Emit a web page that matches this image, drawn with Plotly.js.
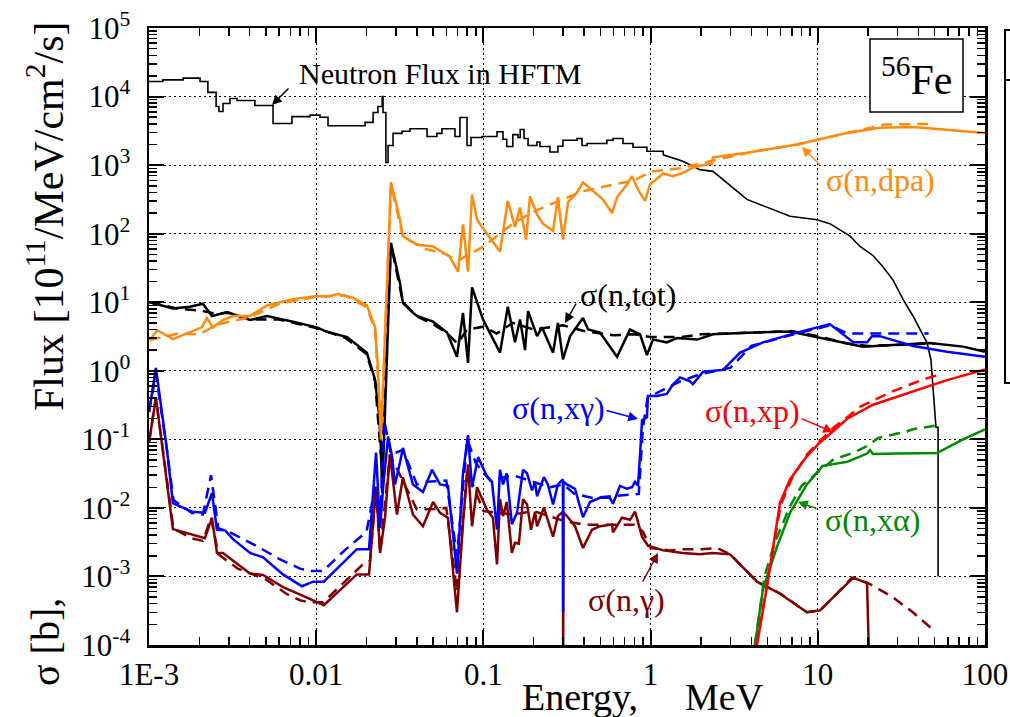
<!DOCTYPE html>
<html><head><meta charset="utf-8">
<script src="https://cdn.plot.ly/plotly-3.0.1.min.js"></script>
<style>html,body{margin:0;padding:0;background:#fff}</style>
</head><body><div id="chart" style="width:1010px;height:717px"></div>
<script>
// ---------- tick labels ----------
const xTickVals = [0.001, 0.01, 0.1, 1, 10, 100];
const xTickText = ["1E-3", "0.01", "0.1", "1", "10", "100"];
const yTickVals = [1e-4, 1e-3, 1e-2, 1e-1, 1, 10, 100, 1e3, 1e4, 1e5];
const yTickText = ["10<sup>-4</sup>","10<sup>-3</sup>","10<sup>-2</sup>","10<sup>-1</sup>","10<sup>0</sup>","10<sup>1</sup>","10<sup>2</sup>","10<sup>3</sup>","10<sup>4</sup>","10<sup>5</sup>"];

// ---------- neutron flux in HFTM (10^11 /MeV/cm2/s) ----------
const fluxE1 = [0.001,0.00121,0.0016,0.00202,0.00225,0.00252,0.00262,0.00277,0.00305,0.00336,0.0043,0.00552,0.00716,0.00918,0.01054,0.01177,0.0196,0.0219,0.0234,0.0248,0.0251,0.0261,0.0269,0.0288,0.0326,0.0364,0.046,0.0527,0.0565,0.0676,0.0724,0.0798,0.0843,0.0982,0.1206,0.131,0.138,0.150,0.161,0.166,0.175,0.185,0.209,0.218,0.250,0.279,0.299,0.363,0.389,0.417,0.548,0.596,0.684,0.785,0.951,1.19];
const fluxV1 = [16600,17500,18600,16600,11500,7160,6040,7900,9370,8750,7400,4050,5100,5360,5000,3760,4200,5840,7160,10000,5840,1090,1930,2900,3120,3400,2620,2900,3400,2620,4950,1930,2530,2620,3070,2380,1870,2780,2530,3300,2450,1930,2170,1870,1550,1880,2300,2450,1930,2070,2300,2450,2070,1820,1590,1410];
const fluxE2 = [1.19,1.56,1.97,2.36,3.77,6.82,9.89,11.8,15.6,17.9,21.4,24.5,28.2,32.4,37.1,40.8,45.0,47.5,48.9,50.9,52.4,52.4];
const fluxV2 = [1410,1140,860,810,316,180,160,140,92,65,48,33,21,10.9,6.3,4.0,2.56,1.45,0.6,0.15,0.15,0.001];

// ---------- sigma(n,tot) [b] ----------
const totE = [0.00101,0.00139,0.00176,0.0021,0.00238,0.00293,0.00402,0.00508,0.00727,0.0101,0.0116,0.0153,0.0201,0.0225,0.0238,0.0244,0.0248,0.028,0.0317,0.033,0.0379,0.0401,0.05,0.0606,0.0695,0.0755,0.0809,0.0855,0.0995,0.1257,0.140,0.1545,0.1656,0.1774,0.185,0.2094,0.224,0.261,0.279,0.299,0.330,0.394,0.423,0.498,0.63,0.753,0.865,0.951,1.033,1.25,1.44,1.72,1.90,2.36,3.77,6.82,9.36,15.0,18.6,29.8,46.9,73.9,100];
const totS = [10.0,8.1,8.6,9.5,6.3,7.2,5.5,6.3,5.2,4.3,3.7,3.1,1.83,0.74,0.22,0.071,0.0168,73.5,19,9.8,7.0,6.3,5.2,3.6,1.6,7.0,1.3,16.5,5.6,1.84,8.6,2.6,5.6,2.0,7.4,3.2,4.3,1.83,5.0,1.47,3.2,5.9,4.0,3.6,1.6,4.0,3.4,1.7,2.85,2.6,3.0,2.95,2.85,3.4,3.6,3.75,3.2,2.5,2.25,2.4,2.55,2.25,1.9];
const totDE = [0.00101,0.0015,0.002,0.0025,0.003,0.004,0.006,0.01,0.015,0.02,0.0225,0.0245,0.028,0.033,0.04,0.05,0.06,0.07,0.08,0.1,0.12,0.15,0.2,0.3,0.4,0.6,0.8,1.0,1.5,2,4,7,10,15,20,30,50];
const totDS = [10.0,8.0,7.6,6.8,7.0,5.6,5.6,4.2,3.0,1.75,0.7,0.05,70,10,6.2,4.8,3.6,2.5,4.0,4.4,3.5,5.0,4.0,4.6,3.8,3.3,3.4,3.1,3.1,3.4,3.6,3.8,3.2,2.5,2.3,2.4,2.5];

// ---------- sigma(n,dpa) ----------
const dpaE = [0.00101,0.00112,0.00139,0.00176,0.00207,0.00222,0.00241,0.00277,0.00318,0.00402,0.00508,0.00727,0.0101,0.0116,0.0135,0.0166,0.0201,0.0225,0.0234,0.0244,0.028,0.0317,0.033,0.0401,0.05,0.0631,0.0705,0.0755,0.0809,0.0855,0.0916,0.105,0.1257,0.140,0.1545,0.1656,0.18,0.190,0.2094,0.227,0.261,0.279,0.299,0.321,0.363,0.394,0.452,0.519,0.588,0.63,0.722,0.774,0.841,0.926,0.991,1.19,1.36,1.56,1.79,1.97,2.33,2.36,3.77,7.52,15.0,23.5,37.1,100];
const dpaS = [2.8,3.9,2.9,3.7,4.3,5.9,4.3,5.5,6.3,6.3,9.0,11.1,12.3,12.0,13.2,11.6,9.0,4.3,1.1,0.1,563,160,92,69,65,46,28,137,28,373,160,100,55,300,125,240,82,350,190,140,110,340,82,290,400,560,420,315,200,340,520,690,440,300,520,755,690,770,920,980,1050,1300,1520,2000,2950,3500,3600,2950];
const dpaDE = [0.00101,0.0015,0.002,0.0025,0.003,0.004,0.006,0.01,0.015,0.02,0.0225,0.0245,0.028,0.033,0.045,0.06,0.07,0.1,0.15,0.2,0.3,0.4,0.6,0.8,1.0,1.5,2.3,4,7.5,15,25,50];
const dpaDS = [2.8,3.5,3.4,4.6,5.2,6.0,9.5,12,12.5,8.5,4,0.12,520,90,60,50,40,65,140,210,320,420,520,600,800,900,1150,1550,2000,2950,3900,4000];

// ---------- sigma(n,x gamma) ----------
const xgE = [0.001,0.0011,0.00128,0.00139,0.00181,0.00216,0.00238,0.00255,0.00285,0.00318,0.00402,0.00481,0.00633,0.00822,0.00957,0.0111,0.0175,0.0207,0.0228,0.0241,0.0251,0.0269,0.0284,0.0296,0.0317,0.033,0.0379,0.0435,0.0493,0.055,0.0614,0.0695,0.0755,0.0809,0.0855,0.0929,0.105,0.1125,0.1206,0.1257,0.131,0.138,0.148,0.159,0.1726,0.1824,0.1953,0.2036,0.2094,0.230,0.243,0.261,0.279,0.299,0.3,0.301,0.316,0.353,0.394,0.434,0.498,0.571,0.596,0.656,0.722,0.774,0.807,0.841,0.865,0.889,0.951,0.964,1.09,1.25,1.36,1.50,1.72,1.79,2.06,2.71,3.43,4.70,7.52,11.8,16.3,19.7,21.1,23.5,37.1,59.3,100];
const xgS = [0.25,1.1,0.071,0.0117,0.0088,0.0085,0.0164,0.0048,0.0047,0.0035,0.0022,0.0019,0.00107,0.00072,0.00084,0.00084,0.0025,0.0025,0.064,0.0051,0.019,0.11,0.057,0.022,0.046,0.075,0.022,0.017,0.036,0.022,0.021,0.0011,0.032,0.115,0.020,0.055,0.029,0.024,0.0048,0.036,0.022,0.032,0.0058,0.0085,0.036,0.032,0.018,0.024,0.0148,0.028,0.022,0.0112,0.022,0.026,0.0003,0.024,0.022,0.019,0.0073,0.0122,0.014,0.014,0.0115,0.021,0.019,0.020,0.024,0.021,0.06,0.19,0.21,0.43,0.43,0.46,0.63,0.8,0.7,0.64,0.97,1.03,1.84,2.6,3.6,4.8,2.6,2.6,3.2,3.2,2.3,1.9,1.6];
const xgDE = [0.001,0.0011,0.00128,0.0014,0.0018,0.0021,0.00235,0.0026,0.003,0.0035,0.0045,0.006,0.008,0.0095,0.011,0.0145,0.02,0.0225,0.0241,0.0255,0.028,0.033,0.04,0.045,0.06,0.0695,0.08,0.09,0.11,0.15,0.2,0.25,0.3,0.35,0.45,0.6,0.85,0.9,0.96,1.1,1.5,2,3,4,7.5,11.8,15,25,46];
const xgDS = [0.25,0.9,0.07,0.013,0.0085,0.008,0.03,0.005,0.0045,0.0037,0.0027,0.0018,0.0013,0.0012,0.0012,0.0023,0.0045,0.02,0.005,0.19,0.06,0.07,0.022,0.024,0.025,0.002,0.1,0.045,0.025,0.03,0.024,0.02,0.022,0.016,0.014,0.015,0.016,0.15,0.4,0.48,0.7,0.9,1.1,2.3,3.5,4.6,3.5,3.5,3.5];

// ---------- sigma(n,gamma) ----------
const ngE = [0.001,0.0011,0.00139,0.00216,0.00238,0.00255,0.00277,0.00318,0.00402,0.00481,0.00633,0.00822,0.0111,0.0175,0.0207,0.0228,0.0241,0.0258,0.0276,0.0304,0.033,0.0379,0.0435,0.05,0.055,0.0614,0.0695,0.0755,0.0809,0.0855,0.0916,0.105,0.114,0.1206,0.1257,0.131,0.138,0.148,0.1545,0.163,0.1726,0.1824,0.1926,0.2036,0.2094,0.230,0.243,0.261,0.279,0.299,0.3,0.301,0.316,0.353,0.394,0.446,0.498,0.588,0.596,0.674,0.753,0.807,0.889,0.964,1.19,1.56,1.97,2.36,2.99,4.33,5.94,8.61,10.3,13.0,16.3,19.7,20.2];
const ngS = [0.09,0.41,0.0049,0.0036,0.0072,0.0022,0.0022,0.0017,0.0011,0.00105,0.00070,0.00053,0.00038,0.00107,0.00107,0.0204,0.0022,0.0072,0.061,0.008,0.028,0.008,0.0054,0.0122,0.0085,0.0072,0.00030,0.0060,0.043,0.0054,0.020,0.0094,0.0072,0.0015,0.0134,0.0076,0.0122,0.0022,0.0031,0.0030,0.0134,0.0113,0.0048,0.0088,0.0054,0.0101,0.0067,0.0038,0.0076,0.0088,0.00008,0.0085,0.0076,0.0054,0.0026,0.0048,0.0054,0.0057,0.0044,0.0072,0.0067,0.0088,0.0038,0.0028,0.0024,0.0022,0.0021,0.0022,0.0021,0.00084,0.00056,0.00030,0.00032,0.00056,0.00096,0.00080,0.00008];
const ngDE = [0.001,0.0011,0.0014,0.0018,0.0021,0.00235,0.0026,0.003,0.0034,0.005,0.0058,0.0067,0.008,0.009,0.011,0.014,0.016,0.019,0.021,0.0228,0.0241,0.0276,0.033,0.04,0.05,0.06,0.0695,0.08,0.1,0.15,0.2,0.3,0.4,0.6,0.8,0.9,1.0,1.3,1.6,2,2.5,3,4.33,6,8.6,10.3,13,16,20,28,37,50];
const ngDS = [0.09,0.4,0.005,0.0036,0.0033,0.0072,0.0021,0.0016,0.0013,0.0009,0.0007,0.00055,0.00045,0.00042,0.00042,0.00075,0.001,0.0015,0.0017,0.02,0.0023,0.06,0.025,0.0095,0.0096,0.01,0.0006,0.035,0.009,0.008,0.009,0.0065,0.0057,0.0057,0.0057,0.0045,0.0026,0.0024,0.0025,0.0025,0.0026,0.0021,0.00084,0.00056,0.0003,0.00032,0.00056,0.00096,0.0008,0.0005,0.0003,0.00016];

// ---------- sigma(n,xp) ----------
const xpE = [4.33,4.97,5.94,6.82,8.61,10.3,12.3,15.0,21.4,37.1,59.3,100];
const xpS = [0.0001,0.00072,0.0118,0.026,0.057,0.09,0.13,0.2,0.32,0.5,0.73,1.05];
const xpDE = [4.3,5.0,6.0,7.0,8.6,10.5,12.5,15,18,21,28,35,45,52];
const xpDS = [0.0001,0.0008,0.011,0.027,0.06,0.1,0.15,0.21,0.3,0.36,0.5,0.62,0.78,0.86];

// ---------- sigma(n,x alpha) ----------
const xaE = [4.21,4.70,5.70,6.82,8.61,10.7,15.0,17.9,19.7,20.5,21.4,29.8,51.6,73.9,100];
const xaS = [0.0001,0.00065,0.0027,0.0085,0.022,0.041,0.047,0.057,0.062,0.07,0.061,0.062,0.063,0.1,0.14];
const xaDE = [4.2,4.8,5.5,6.8,8.0,10.7,12.3,16.3,19.7,23,30,34,37,46,50];
const xaDS = [0.0001,0.001,0.003,0.0104,0.021,0.037,0.05,0.064,0.08,0.105,0.12,0.13,0.14,0.155,0.158];

// ---------- styling ----------
const SERIF = "Liberation Serif, 'Times New Roman', Times, serif";
const C = {tot:'#000000', dpa:'#ff8a0d', xg:'#0000ff', ng:'#800000', xp:'#ff0000', xa:'#008a00'};
const LW = 2.5;
const DASH = '11px,7px';

function line(x, y, color, dashed, width, shape) {
  return {x: x, y: y, type: 'scatter', mode: 'lines', hoverinfo: 'skip', showlegend: false,
          line: {color: color, width: width || LW, dash: dashed ? DASH : 'solid', shape: shape || 'linear'}};
}

const traces = [
  line(fluxE1, fluxV1, '#000', false, 1.6, 'hv'),
  line(fluxE2, fluxV2, '#000', false, 1.6),
  line(totDE, totDS, C.tot, true),
  line(totE, totS, C.tot, false),
  line(dpaDE, dpaDS, C.dpa, true),
  line(dpaE, dpaS, C.dpa, false),
  line(ngDE, ngDS, C.ng, true),
  line(ngE, ngS, C.ng, false),
  line(xgDE, xgDS, C.xg, true),
  line(xgE, xgS, C.xg, false),
  line(xaDE, xaDS, C.xa, true),
  line(xaE, xaS, C.xa, false),
  line(xpDE, xpDS, C.xp, true),
  line(xpE, xpS, C.xp, false),
  {x: [0.01], y: [1], xaxis: 'x2', yaxis: 'y2', type: 'scatter', mode: 'lines', hoverinfo: 'skip', showlegend: false}
];

// minor tick positions (2..9 in each decade)
const minorX = [], minorY = [];
for (let d = -3; d <= 1; d++) for (let k = 2; k <= 9; k++) minorX.push(k * Math.pow(10, d));
for (let d = -4; d <= 4; d++) for (let k = 2; k <= 9; k++) minorY.push(k * Math.pow(10, d));

const tickFont = {family: SERIF, size: 31, color: '#000'};
const axisCommon = {
  type: 'log', ticks: 'inside', ticklen: 15, tickwidth: 2, tickcolor: '#000',
  showline: true, linewidth: 2.5, linecolor: '#000', mirror: 'ticks',
  showgrid: true, gridcolor: '#000', griddash: '1.5px,3.5px', gridwidth: 1.2,
  zeroline: false, tickfont: tickFont
};

function lab(text, px, py, color, size, extra) {
  return Object.assign({text: text, xref: 'paper', yref: 'paper',
    x: (px - 149) / 836, y: (645 - py) / 617, xanchor: 'center', yanchor: 'middle',
    showarrow: false, font: {family: SERIF, size: size || 32, color: color}}, extra || {});
}
function arrow(hx, hy, tx, ty, color) {
  return {text: '', xref: 'paper', yref: 'paper', x: (hx - 149) / 836, y: (645 - hy) / 617,
    ax: tx - hx, ay: ty - hy, showarrow: true, arrowhead: 2, arrowsize: 1.3, arrowwidth: 1.5,
    arrowcolor: color, standoff: 0, startstandoff: 0};
}

const layout = {
  width: 1010, height: 717,
  margin: {l: 149, r: 25, t: 28, b: 72},
  paper_bgcolor: '#fff', plot_bgcolor: '#fff', showlegend: false,
  xaxis: Object.assign({}, axisCommon, {range: [-3, 2], tickvals: xTickVals, ticktext: xTickText}),
  yaxis: Object.assign({}, axisCommon, {range: [-4, 5], tickvals: yTickVals, ticktext: yTickText, ticklabelstandoff: 10}),
  xaxis2: {type: 'log', range: [-3, 2], overlaying: 'x', anchor: 'y', side: 'bottom', tickvals: minorX,
    ticks: 'inside', ticklen: 8, tickwidth: 1.5, tickcolor: '#000', showticklabels: false,
    showgrid: false, showline: false, zeroline: false, mirror: 'ticks'},
  yaxis2: {type: 'log', range: [-4, 5], overlaying: 'y', anchor: 'x', side: 'left', tickvals: minorY,
    ticks: 'inside', ticklen: 8, tickwidth: 1.5, tickcolor: '#000', showticklabels: false,
    showgrid: false, showline: false, zeroline: false, mirror: 'ticks'},
  shapes: [
    {type: 'rect', xref: 'paper', yref: 'paper', x0: (870 - 149) / 836, x1: (963 - 149) / 836,
     y0: (645 - 112) / 617, y1: (645 - 39) / 617, line: {color: '#000', width: 1.5}, fillcolor: '#fff', layer: 'above'},
    {type: 'rect', xref: 'paper', yref: 'paper', x0: (1005 - 149) / 836, x1: (1030 - 149) / 836,
     y0: (645 - 383) / 617, y1: (645 - 30) / 617, line: {color: '#000', width: 2}},
    {type: 'line', xref: 'paper', yref: 'paper', x0: (1005 - 149) / 836, x1: (1030 - 149) / 836,
     y0: (645 - 80) / 617, y1: (645 - 80) / 617, line: {color: '#000', width: 2}}
  ],
  annotations: [
    lab('<sup>56</sup>Fe', 916, 76, '#000', 42),
    lab('Neutron Flux in HFTM', 440, 73, '#000', 30),
    arrow(272, 105, 290, 87, '#000'),
    lab('\u03c3(n,tot)', 628, 295, '#000', 32),
    arrow(565, 323, 577, 302, '#000'),
    lab('\u03c3(n,dpa)', 880, 180, C.dpa, 32),
    arrow(802, 147, 822, 167, C.dpa),
    lab('\u03c3(n,x\u03b3)', 558, 408, C.xg, 32),
    arrow(638, 419, 605, 410, C.xg),
    lab('\u03c3(n,xp)', 752, 411, C.xp, 32),
    arrow(833, 432, 800, 418, C.xp),
    lab('\u03c3(n,x\u03b1)', 872, 520, C.xa, 32),
    arrow(798, 502, 818, 509, C.xa),
    lab('\u03c3(n,\u03b3)', 626, 600, C.ng, 32),
    arrow(658, 553, 642, 583, C.ng),
    lab('Flux [10<sup>11</sup>/MeV/cm<sup>2</sup>/s]', 45, 216, '#000', 42, {textangle: -90}),
    lab('\u03c3 [b],', 45, 642, '#000', 40, {textangle: -90}),
    lab('Energy,', 640, 697, '#000', 38, {xanchor: 'right'}),
    lab('MeV', 683, 697, '#000', 38, {xanchor: 'left'})
  ]
};

Plotly.newPlot('chart', traces, layout, {staticPlot: true, displayModeBar: false});
</script></body></html>
